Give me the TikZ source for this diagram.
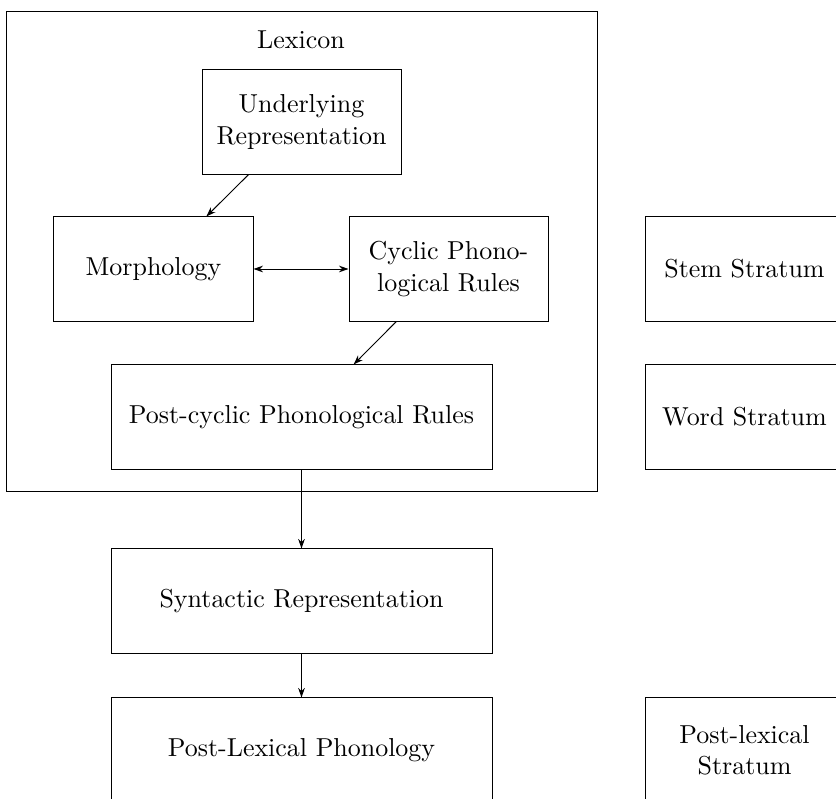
\documentclass[tikz,border=0pt]{standalone}
\usetikzlibrary{arrows.meta}
\begin{document}
\begin{tikzpicture}[x=0.42pt,y=-0.42pt,
  every node/.style={font=\fontsize{10.9}{13.1}\selectfont},
  box/.style={draw, align=center, inner sep=2pt, minimum width=83.6pt, minimum height=43.7pt},
  widebox/.style={box, minimum width=160pt},
  arr/.style={-{Stealth[length=4pt,width=2.8pt]}},
  darr/.style={{Stealth[length=4pt,width=2.8pt]}-{Stealth[length=4pt,width=2.8pt]}}]
\useasboundingbox (0,0) rectangle (836,799);
\clip (0,0) rectangle (836,799);
\node[draw, minimum width=248.2pt, minimum height=202pt, inner sep=0pt] (lex) at (301.5,251.5) {};
\node (lexlabel) at (301,40) {Lexicon};
\node[box] (ur) at (301.5,122) {Underlying\\Representation};
\node[box] (mor) at (153.5,269) {Morphology};
\node[box] (cyc) at (448.5,269) {Cyclic Phono-\\logical Rules};
\node[widebox] (post) at (301.5,417) {Post-cyclic Phonological Rules};
\node[widebox] (syn) at (301.5,601) {Syntactic Representation};
\node[widebox] (plp) at (301.5,750) {Post-Lexical Phonology};
\node[box] (stem) at (744.5,269) {Stem Stratum};
\node[box] (word) at (744.5,417) {Word Stratum};
\node[box] (pls) at (744.5,750) {Post-lexical\\Stratum};
\draw[arr] (ur) -- (mor);
\draw[darr] (mor) -- (cyc);
\draw[arr] (cyc) -- (post);
\draw[arr] (post) -- (syn);
\draw[arr] (syn) -- (plp);
\end{tikzpicture}
\end{document}
